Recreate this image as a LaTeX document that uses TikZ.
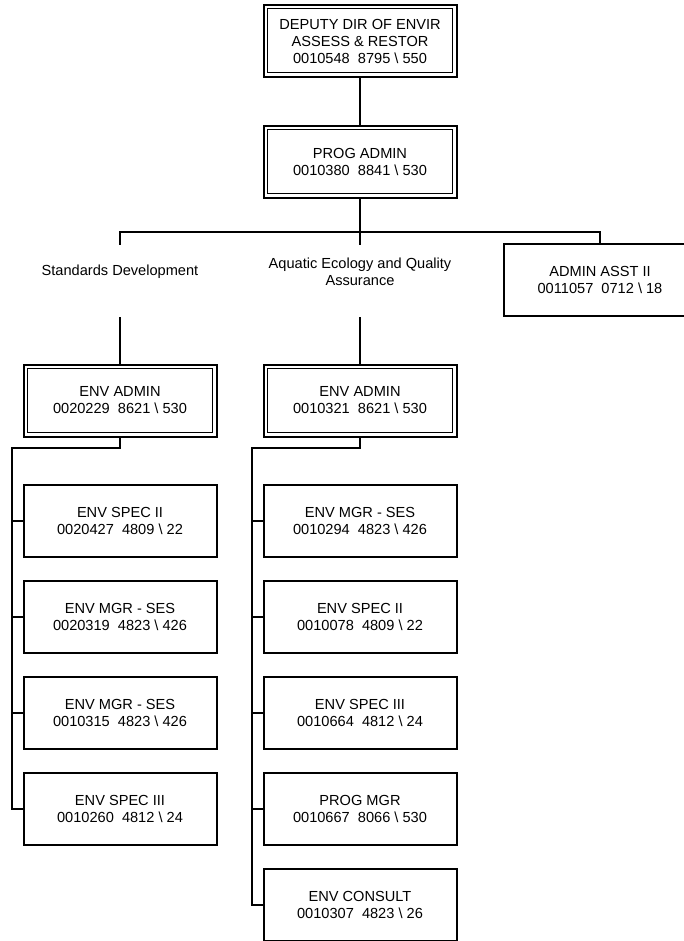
\documentclass[tikz,border=0pt]{standalone}
\usepackage{fontspec}
\setmainfont{Liberation Sans}
\usetikzlibrary{backgrounds}
% position code line: number, class, grade
\newcommand\posn[3]{#1\ \ #2 \textbackslash\ #3}
\begin{document}
\begin{tikzpicture}[x=1pt,y=-1pt,
  every node/.style={font=\fontsize{14.6}{17}\selectfont, align=center,
    inner sep=0pt, outer sep=0pt},
  post/.style={draw, line width=2pt, minimum width=193pt, minimum height=72pt},
  unitbox/.style={fill=white, minimum width=193pt, minimum height=72pt},
  link/.style={line width=2pt, line join=miter}
]
\useasboundingbox (0,0) rectangle (683,941);

% management chain
\node[post] (dep)  at (360,41)  {DEPUTY DIR OF ENVIR\\ASSESS \& RESTOR\\\posn{0010548}{8795}{550}};
\node[post] (prog) at (360,162) {PROG ADMIN\\\posn{0010380}{8841}{530}};

% units
\node[unitbox] (std) at (120,281) {};
\node (stdtext) at (120,272) {Standards Development};
\node[unitbox] (aq) at (360,281) {};
\node (aqtext) at (360,272) {Aquatic Ecology and Quality\\Assurance};
\node[post] (asst) at (600,280) {ADMIN ASST II\\\posn{0011057}{0712}{18}};

\node[post] (envA) at (120,400.5) {ENV ADMIN\\\posn{0020229}{8621}{530}};
\node[post] (envB) at (360,400.5) {ENV ADMIN\\\posn{0010321}{8621}{530}};

% Standards Development staff
\node[post] (a1) at (120,521) {ENV SPEC II\\\posn{0020427}{4809}{22}};
\node[post] (a2) at (120,617) {ENV MGR - SES\\\posn{0020319}{4823}{426}};
\node[post] (a3) at (120,713) {ENV MGR - SES\\\posn{0010315}{4823}{426}};
\node[post] (a4) at (120,809) {ENV SPEC III\\\posn{0010260}{4812}{24}};

% Aquatic Ecology staff
\node[post] (b1) at (360,521) {ENV MGR - SES\\\posn{0010294}{4823}{426}};
\node[post] (b2) at (360,617) {ENV SPEC II\\\posn{0010078}{4809}{22}};
\node[post] (b3) at (360,713) {ENV SPEC III\\\posn{0010664}{4812}{24}};
\node[post] (b4) at (360,809) {PROG MGR\\\posn{0010667}{8066}{530}};
\node[post] (b5) at (360,905) {ENV CONSULT\\\posn{0010307}{4823}{26}};

% inner frame of the double-ruled boxes
\foreach \n in {dep,prog,envA,envB}
  \draw[line width=1pt] ([shift={(4pt,-4pt)}]\n.north west) rectangle ([shift={(-4pt,4pt)}]\n.south east);

\coordinate (busR) at (600,232);
\coordinate (lbus) at (12,448);
\coordinate (mbus) at (252,448);

\begin{scope}[on background layer]
  \draw[link] (dep.south) -- (prog.north);
  \draw[link] (envA.north) |- (busR) -- (asst.north);
  \draw[link] (prog.south) -- (prog.south |- busR);
  \draw[link] (envB.north) -- (envB.north |- busR);
  \draw[link] (envA.south) |- (lbus) -- (lbus |- a4.west) -- (a4.west);
  \foreach \c in {a1,a2,a3}
    \draw[link] (lbus |- \c.west) -- (\c.west);
  \draw[link] (envB.south) |- (mbus) -- (mbus |- b5.west) -- (b5.west);
  \foreach \c in {b1,b2,b3,b4}
    \draw[link] (mbus |- \c.west) -- (\c.west);
\end{scope}
\end{tikzpicture}
\end{document}
